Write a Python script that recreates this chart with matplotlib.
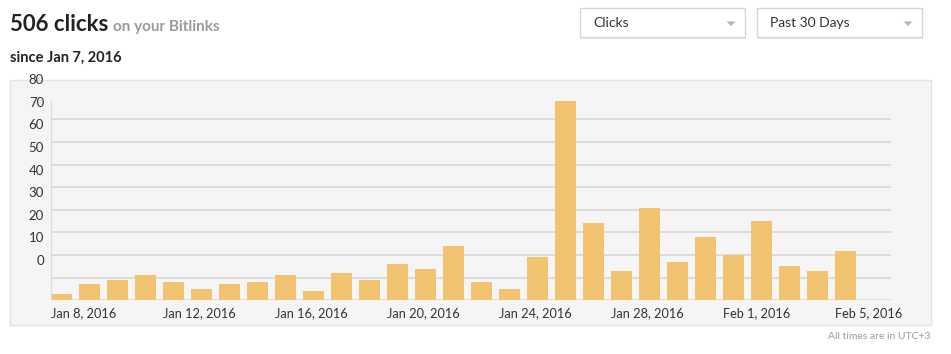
import numpy as np
import matplotlib
matplotlib.use('Agg')
import matplotlib.pyplot as plt
from matplotlib.patches import Rectangle, Polygon
from matplotlib.transforms import ScaledTranslation

plt.rcParams['font.family'] = ['Lato', 'DejaVu Sans']

# Daily clicks, Jan 8 .. Feb 5, 2016
days = ['Jan 8', 'Jan 9', 'Jan 10', 'Jan 11', 'Jan 12', 'Jan 13', 'Jan 14', 'Jan 15',
        'Jan 16', 'Jan 17', 'Jan 18', 'Jan 19', 'Jan 20', 'Jan 21', 'Jan 22', 'Jan 23',
        'Jan 24', 'Jan 25', 'Jan 26', 'Jan 27', 'Jan 28', 'Jan 29', 'Jan 30', 'Jan 31',
        'Feb 1', 'Feb 2', 'Feb 3', 'Feb 4', 'Feb 5']
clicks = [3, 7, 9, 11, 8, 5, 7, 8, 11, 4, 12, 9, 16, 14, 24, 8, 5, 19, 88, 34,
          13, 41, 17, 28, 20, 35, 15, 13, 22]
xtick_labels = ['Jan 8, 2016', 'Jan 12, 2016', 'Jan 16, 2016', 'Jan 20, 2016',
                'Jan 24, 2016', 'Jan 28, 2016', 'Feb 1, 2016', 'Feb 5, 2016']
ytick_labels = ['0', '10', '20', '30', '40', '50', '60', '70', '80']
grid_values = [0, 10, 20, 30, 40, 50, 60, 70, 80]

W, H = 951, 354
fig = plt.figure(figsize=(W / 100, H / 100), dpi=100)

def px(x, y, w, h):
    # pixel box (top-left origin) -> figure fraction
    return (x / W, 1 - (y + h) / H, w / W, h / H)

# grey panel behind the chart
x0, y0, w0, h0 = px(10, 80, 921, 245)
fig.patches.append(Rectangle((x0, y0), w0, h0, transform=fig.transFigure,
                             facecolor='#f5f5f5', edgecolor='#e3e3e3', lw=1, zorder=-5))

# dropdown boxes
for bx, bw, label, cx in [(580, 165, 'Clicks', 731), (757, 165, 'Past 30 Days', 908)]:
    sx, sy, sw, sh = px(bx + 1, 9.5, bw, 29)
    fig.patches.append(Rectangle((sx, sy), sw, sh, transform=fig.transFigure,
                                 facecolor='#e6e6e6', edgecolor='none', zorder=1))
    rx, ry, rw, rh = px(bx, 8, bw, 29)
    fig.patches.append(Rectangle((rx, ry), rw, rh, transform=fig.transFigure,
                                 facecolor='white', edgecolor='#d6d6d6', lw=1, zorder=2))
    fig.text((bx + 13) / W, 1 - 23 / H, label, fontsize=10, color='#333333',
             va='center', ha='left', zorder=3)
    tri = np.array([[cx - 4.5, 21.5], [cx + 4.5, 21.5], [cx, 26]])
    fig.patches.append(Polygon(np.column_stack([tri[:, 0] / W, 1 - tri[:, 1] / H]),
                               closed=True, transform=fig.transFigure,
                               facecolor='#b5b5b5', edgecolor='none', zorder=3))

# header texts
fig.text(10 / W, 1 - 24.5 / H, '506 clicks', fontsize=16, fontweight='bold',
         color='#222222', va='center', ha='left')
fig.text(113 / W, 1 - 26.5 / H, 'on your Bitlinks', fontsize=11, fontweight='bold',
         color='#9a9a9a', va='center', ha='left')
fig.text(10 / W, 1 - 58 / H, 'since Jan 7, 2016', fontsize=10.5, fontweight='bold',
         color='#222222', va='center', ha='left')
fig.text(931 / W, 1 - 336.5 / H, 'All times are in UTC+3', fontsize=7.5,
         color='#9a9a9a', va='center', ha='right')

# chart axes
ax = fig.add_axes([51 / W, (H - 300.3) / H, 840 / W, 226.25 / H])
ax.patch.set_alpha(0)
x = np.arange(len(clicks))
ax.hlines(grid_values, -0.375, 29.625, colors='#dcdcdc', lw=1.4, zorder=1)
ax.bar(x, clicks, width=0.75, color='#f2c471', zorder=2)
ax.set_xlim(-0.375, 29.625)
ax.set_ylim(0, 100)

for s in ['top', 'right', 'bottom']:
    ax.spines[s].set_visible(False)
ax.spines['left'].set_color('#dcdcdc')
ax.spines['left'].set_linewidth(1)
ax.spines['left'].set_bounds(0, 88)

ax.set_xticks(x[::4] - 0.375)
ax.set_xticklabels(xtick_labels, ha='left')
ax.tick_params(axis='x', length=0, pad=5, labelsize=9.2, labelcolor='#333333')

ax.set_yticks([v + 20 for v in grid_values])
ax.set_yticklabels(ytick_labels)
ax.tick_params(axis='y', length=0, pad=5, labelsize=9.5, labelcolor='#333333')
shift = ScaledTranslation(0, -0.05, fig.dpi_scale_trans)
for lab in ax.get_yticklabels():
    lab.set_transform(lab.get_transform() + shift)

fig.savefig('out.png', dpi=100)
